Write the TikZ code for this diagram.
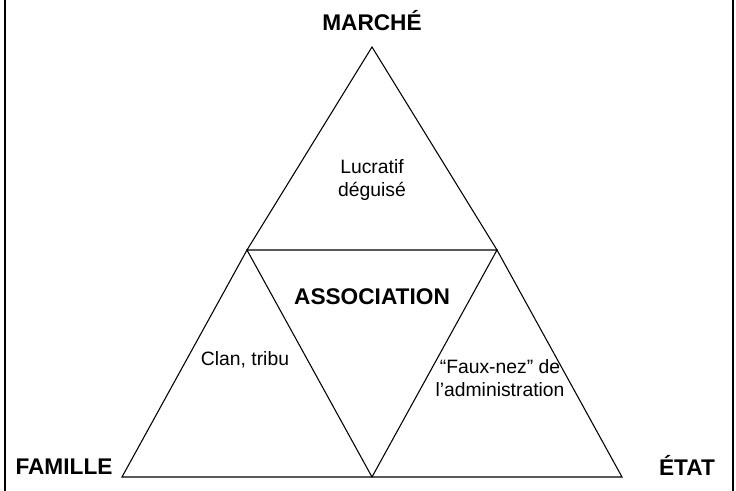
\documentclass[tikz,border=0pt]{standalone}
\usepackage{fontspec}
\setmainfont{Liberation Sans}
\tikzset{
	pole/.style={font=\fontsize{17}{20}\selectfont\bfseries},
	zone/.style={font=\fontsize{14.5}{17}\selectfont, align=center},
}
\begin{document}
\begin{tikzpicture}[x=.75pt,y=-.75pt,line width=.8pt]
\useasboundingbox (0,0) rectangle (736,491);
\draw (5,0) -- (5,491) (733,0) -- (733,491);
\coordinate (top) at (372,47);
\coordinate (bl) at (122,477);
\coordinate (br) at (622,477);
\coordinate (ml) at (247,250);
\coordinate (mr) at (497,250);
\coordinate (mb) at (372,477);
% outer outline, made of four triangles
\draw (top) -- (mr) -- (br) -- (bl) -- (ml) -- cycle;
\draw (ml) -- (mr) -- (mb) -- cycle;
\path
	(372,21) node [pole] (marche) {MARCHÉ}
	(64,467) node [pole] (famille) {FAMILLE}
	(687,465) node [pole] (etat) {ÉTAT}
	(372,297) node [pole] (asso) {ASSOCIATION}
	(372,180) node [zone] (lucratif) {Lucratif\\déguisé}
	(245,360) node [zone] (clan) {Clan, tribu}
	(500,378) node [zone] (fauxnez) {“Faux-nez” de\\l’administration};
\end{tikzpicture}
\end{document}
